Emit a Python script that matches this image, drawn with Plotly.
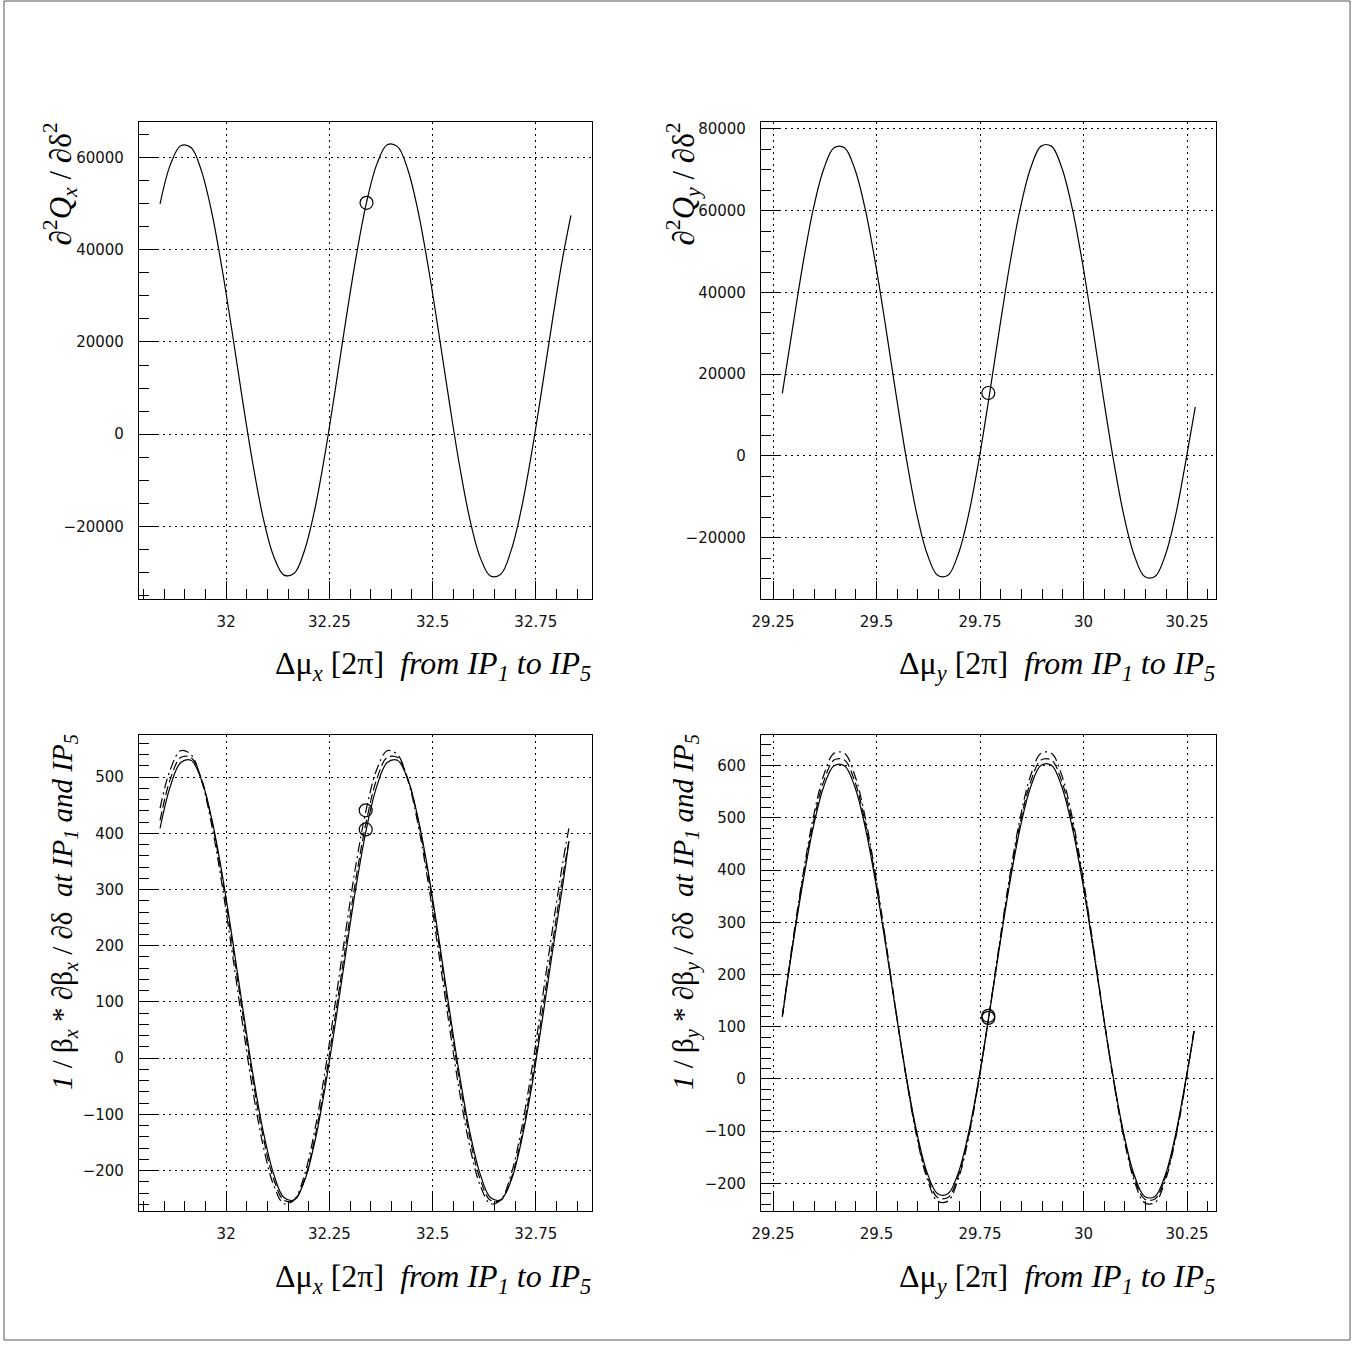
import plotly.graph_objects as go

# ---------------- data ----------------
# horizontal phase advance, x plane  [2pi]
mux_top = [31.840, 31.865, 31.890, 31.915, 31.940, 31.965, 31.990, 32.015, 32.040, 32.065,
           32.090, 32.115, 32.140, 32.165, 32.190, 32.215, 32.240, 32.265, 32.290, 32.315,
           32.340, 32.365, 32.390, 32.415, 32.440, 32.465, 32.490, 32.515, 32.540, 32.565,
           32.590, 32.615, 32.640, 32.665, 32.690, 32.715, 32.740, 32.765, 32.790, 32.815,
           32.835]
d2qx = [50000, 58500, 62600, 62200, 57200, 48200, 36000, 21900, 7200, -6600,
        -18300, -26500, -30600, -30200, -25200, -16200, -4000, 10100, 24800, 38600,
        50300, 58600, 62800, 62400, 57400, 48300, 36000, 21900, 7200, -6700,
        -18400, -26700, -30800, -30400, -25300, -16200, -4000, 10000, 24600, 38300,
        47500]
mux_pt = [32.34]
d2qx_pt = [50200]

muy_top = [29.2725, 29.2975, 29.3225, 29.3475, 29.3725, 29.3975, 29.4225, 29.4475, 29.4725, 29.4975,
           29.5225, 29.5475, 29.5725, 29.5975, 29.6225, 29.6475, 29.6725, 29.6975, 29.7225, 29.7475,
           29.7725, 29.7975, 29.8225, 29.8475, 29.8725, 29.8975, 29.9225, 29.9475, 29.9725, 29.9975,
           30.0225, 30.0475, 30.0725, 30.0975, 30.1225, 30.1475, 30.1725, 30.1975, 30.2225, 30.2475,
           30.2700]
d2qy = [15300, 31400, 47100, 60500, 70200, 75400, 75400, 70200, 60500, 47100,
        31400, 14800, -900, -14300, -24000, -29200, -29200, -24000, -14300, -900,
        14800, 31400, 47200, 60700, 70500, 75800, 75800, 70500, 60700, 47200,
        31300, 14600, -1100, -14600, -24300, -29500, -29500, -24300, -14500, -1000,
        12000]
muy_pt = [29.77]
d2qy_pt = [15400]

mux_bot = [31.840, 31.865, 31.890, 31.915, 31.940, 31.965, 31.990, 32.015, 32.040, 32.065,
           32.090, 32.115, 32.140, 32.165, 32.190, 32.215, 32.240, 32.265, 32.290, 32.315,
           32.340, 32.365, 32.390, 32.415, 32.440, 32.465, 32.490, 32.515, 32.540, 32.565,
           32.590, 32.615, 32.640, 32.665, 32.690, 32.715, 32.740, 32.765, 32.790, 32.815,
           32.830]
dbx_solid = [409, 484, 526, 530, 496, 426, 329, 213, 90, -29,
             -131, -206, -248, -252, -218, -148, -51, 65, 188, 307,
             409, 484, 526, 530, 496, 426, 329, 213, 90, -29,
             -131, -206, -248, -252, -218, -148, -51, 65, 188, 307,
             385]
dbx_dash = [423, 497, 535, 535, 497, 423, 322, 203, 79, -40,
            -141, -215, -253, -253, -215, -141, -40, 79, 203, 322,
            423, 497, 535, 535, 497, 423, 322, 203, 79, -40,
            -141, -215, -253, -253, -215, -141, -40, 79, 203, 322,
            386]
dbx_dashdot = [445, 514, 547, 540, 495, 415, 309, 186, 60, -59,
               -157, -226, -259, -252, -207, -127, -21, 102, 228, 347,
               445, 514, 547, 540, 495, 415, 309, 186, 60, -59,
               -157, -226, -259, -252, -207, -127, -21, 102, 228, 347,
               409]
dbx_pt_x = [32.338, 32.338]
dbx_pt_y = [441, 407]

muy_bot = [29.2725, 29.2975, 29.3225, 29.3475, 29.3725, 29.3975, 29.4225, 29.4475, 29.4725, 29.4975,
           29.5225, 29.5475, 29.5725, 29.5975, 29.6225, 29.6475, 29.6725, 29.6975, 29.7225, 29.7475,
           29.7725, 29.7975, 29.8225, 29.8475, 29.8725, 29.8975, 29.9225, 29.9475, 29.9725, 29.9975,
           30.0225, 30.0475, 30.0725, 30.0975, 30.1225, 30.1475, 30.1725, 30.1975, 30.2225, 30.2475,
           30.2675]
dby_solid = [119, 255, 378, 483, 560, 600, 600, 560, 483, 378,
             255, 125, 2, -103, -180, -220, -220, -180, -103, 2,
             125, 255, 378, 483, 560, 601, 601, 560, 483, 378,
             254, 123, 0, -106, -184, -225, -225, -184, -106, 0,
             92]
dby_dash = [120, 258, 385, 492, 570, 611, 611, 570, 492, 385,
            258, 126, 0, -108, -186, -227, -227, -186, -108, 0,
            126, 258, 385, 492, 570, 611, 611, 570, 492, 385,
            257, 124, -2, -110, -189, -230, -230, -189, -110, -2,
            95]
dby_dashdot = [121, 263, 392, 502, 582, 624, 624, 582, 502, 392,
               263, 127, -2, -112, -192, -234, -234, -192, -112, -2,
               127, 263, 392, 502, 582, 624, 624, 582, 502, 392,
               262, 125, -4, -114, -195, -237, -237, -195, -114, -4,
               97]
dby_pt_x = [29.77, 29.77]
dby_pt_y = [121, 117]

# ---------------- figure ----------------
W, H = 1354, 1346
fig = go.Figure()

def line(x, y, xa, ya, dash="solid"):
    fig.add_trace(go.Scatter(x=x, y=y, xaxis=xa, yaxis=ya, mode="lines",
                             line=dict(color="black", width=1.2, dash=dash, shape="spline", smoothing=1),
                             showlegend=False, hoverinfo="skip"))

def pts(x, y, xa, ya):
    fig.add_trace(go.Scatter(x=x, y=y, xaxis=xa, yaxis=ya, mode="markers",
                             marker=dict(symbol="circle-open", size=13, color="black", line=dict(width=1.2)),
                             showlegend=False, hoverinfo="skip"))

DASH = "9px,4px"
DASHDOT = "10px,4px,2px,4px"

line(mux_top, d2qx, "x", "y")
pts(mux_pt, d2qx_pt, "x", "y")

line(muy_top, d2qy, "x2", "y2")
pts(muy_pt, d2qy_pt, "x2", "y2")

line(mux_bot, dbx_solid, "x3", "y3")
line(mux_bot, dbx_dash, "x3", "y3", DASH)
line(mux_bot, dbx_dashdot, "x3", "y3", DASHDOT)
pts(dbx_pt_x, dbx_pt_y, "x3", "y3")

line(muy_bot, dby_solid, "x4", "y4")
line(muy_bot, dby_dash, "x4", "y4", DASH)
line(muy_bot, dby_dashdot, "x4", "y4", DASHDOT)
pts(dby_pt_x, dby_pt_y, "x4", "y4")

def px_x(p):
    return p / W

def px_y(p):
    return (H - p) / H

dom_xl = [px_x(139), px_x(592)]
dom_xr = [px_x(761), px_x(1216)]
dom_yt = [px_y(599), px_y(122)]
dom_yb = [px_y(1211), px_y(735)]

tickfont = dict(family="DejaVu Sans", size=15, color="#111")
GRID = "2px,4px"

def xax(domain, anchor, rng, dtick, minor):
    return dict(domain=domain, anchor=anchor, range=rng, dtick=dtick, tick0=0,
                ticks="inside", ticklen=18, tickwidth=1, tickcolor="black",
                minor=dict(dtick=minor, ticks="inside", ticklen=10, tickwidth=1, tickcolor="black", showgrid=False),
                showline=True, linecolor="black", linewidth=1.2, mirror=True,
                showgrid=True, gridcolor="black", gridwidth=1, griddash=GRID,
                zeroline=False, tickfont=tickfont, ticklabelstandoff=9, fixedrange=True,
                automargin=False)

def yax(domain, anchor, rng, dtick, minor):
    d = xax(domain, anchor, rng, dtick, minor)
    d["tickformat"] = "d"
    d["ticklabelstandoff"] = 11
    return d

fig.update_layout(
    width=W, height=H, autosize=False,
    margin=dict(l=0, r=0, t=0, b=0, pad=0, autoexpand=False),
    paper_bgcolor="white", plot_bgcolor="white",
    xaxis=xax(dom_xl, "y", [31.789, 32.886], 0.25, 0.05),
    yaxis=yax(dom_yt, "x", [-35790, 67750], 20000, 5000),
    xaxis2=xax(dom_xr, "y2", [29.221, 30.320], 0.25, 0.05),
    yaxis2=yax(dom_yt, "x2", [-35000, 81700], 20000, 5000),
    xaxis3=xax(dom_xl, "y3", [31.789, 32.886], 0.25, 0.05),
    yaxis3=yax(dom_yb, "x3", [-272, 575], 100, 20),
    xaxis4=xax(dom_xr, "y4", [29.221, 30.320], 0.25, 0.05),
    yaxis4=yax(dom_yb, "x4", [-253, 659], 100, 20),
)

serif = "Liberation Serif"
NB = "\u00a0"

def title(text, x, y, xanchor, yanchor, angle=0, size=32):
    fig.add_annotation(text=text, x=px_x(x), y=px_y(y), xref="paper", yref="paper",
                       xanchor=xanchor, yanchor=yanchor, textangle=angle, showarrow=False,
                       font=dict(family=serif, size=size, color="black"))

xt_x = "Δμ<sub><i>x</i></sub> [2π]" + NB + NB + "<i>from IP<sub>1</sub> to IP<sub>5</sub></i>"
xt_y = "Δμ<sub><i>y</i></sub> [2π]" + NB + NB + "<i>from IP<sub>1</sub> to IP<sub>5</sub></i>"
title(xt_x, 593, 665, "right", "middle")
title(xt_y, 1217, 665, "right", "middle")
title(xt_x, 593, 1278, "right", "middle")
title(xt_y, 1217, 1278, "right", "middle")

yt_qx = "∂<sup>2</sup><i>Q</i><sub><i>x</i></sub> / ∂δ<sup>2</sup>"
yt_qy = "∂<sup>2</sup><i>Q</i><sub><i>y</i></sub> / ∂δ<sup>2</sup>"
yt_bx = "<i>1</i> / β<sub><i>x</i></sub> * ∂β<sub><i>x</i></sub> / ∂δ" + NB + NB + "<i>at IP<sub>1</sub> and IP<sub>5</sub></i>"
yt_by = "<i>1</i> / β<sub><i>y</i></sub> * ∂β<sub><i>y</i></sub> / ∂δ" + NB + NB + "<i>at IP<sub>1</sub> and IP<sub>5</sub></i>"
title(yt_qx, 60, 121, "center", "top", -90, 31)
title(yt_qy, 683, 121, "center", "top", -90, 31)
title(yt_bx, 64, 732, "center", "top", -90, 29)
title(yt_by, 685, 732, "center", "top", -90, 29)

# outer frame of the page
fig.add_shape(type="rect", xref="paper", yref="paper",
              x0=px_x(4), x1=px_x(1350), y0=px_y(1340), y1=px_y(1),
              line=dict(color="#555", width=1))

post = (
    "document.documentElement.style.margin='0';"
    "document.documentElement.style.overflow='hidden';"
    "document.body.style.margin='0';"
    "document.body.style.padding='0';"
    "document.body.style.overflow='hidden';"
)
fig.write_html("out.html", post_script=post,
               config={"displayModeBar": False, "responsive": False})
